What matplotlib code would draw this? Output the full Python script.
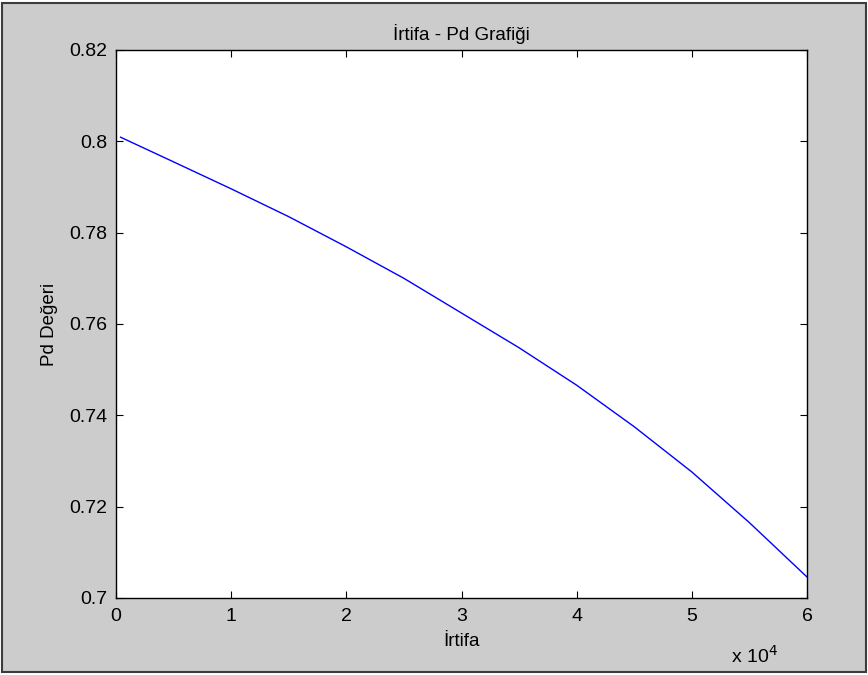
import matplotlib
matplotlib.use('Agg')
import matplotlib.pyplot as plt
from matplotlib.patches import Rectangle
from matplotlib.ticker import FuncFormatter
import numpy as np

# altitude (m) and Pd values
irtifa = [400, 5000, 10000, 15000, 20000, 25000, 30000, 35000, 40000, 45000, 50000, 55000, 60000]
pd_degeri = [0.8009, 0.7955, 0.7896, 0.7835, 0.7769, 0.7700, 0.7624, 0.7548, 0.7466, 0.7375, 0.7276, 0.7165, 0.7046]

x_ticks = [0, 10000, 20000, 30000, 40000, 50000, 60000]
y_ticks = [0.70, 0.72, 0.74, 0.76, 0.78, 0.80, 0.82]

plt.rcParams['font.family'] = ['Liberation Sans', 'DejaVu Sans']

fig = plt.figure(figsize=(8.68, 6.75), dpi=100, facecolor='white')
fig.patches.append(Rectangle((2/868, 3/675), 864/868, 669/675, transform=fig.transFigure,
                             facecolor='#cccccc', edgecolor='#3c3c3c', linewidth=1.5, zorder=-1))

ax = fig.add_axes([116/868, 1 - 598/675, 691/868, 548/675])
ax.plot(irtifa, pd_degeri, color='blue', linewidth=1)

ax.set_xlim(0, 60000)
ax.set_ylim(0.70, 0.82)
ax.set_xticks(x_ticks)
ax.set_yticks(y_ticks)
ax.xaxis.set_major_formatter(FuncFormatter(lambda v, p: '%g' % (v / 10000)))
ax.yaxis.set_major_formatter(FuncFormatter(lambda v, p: '%g' % round(v, 2)))
ax.tick_params(direction='in', length=5, width=0.8, top=True, right=True, labelsize=14)
ax.tick_params(axis='y', pad=6)
ax.tick_params(axis='x', pad=7)
for s in ax.spines.values():
    s.set_linewidth(1.0)

ax.set_title('İrtifa - Pd Grafiği', fontsize=13.5, pad=7)
ax.set_xlabel('İrtifa', fontsize=13.5, labelpad=6)
ax.set_ylabel('Pd Değeri', fontsize=13.5, labelpad=8)
fig.text(754/868, 1 - 656/675, 'x 10$^{4}$', fontsize=14, ha='center', va='center')

plt.savefig('out.png', dpi=100, facecolor=fig.get_facecolor())
